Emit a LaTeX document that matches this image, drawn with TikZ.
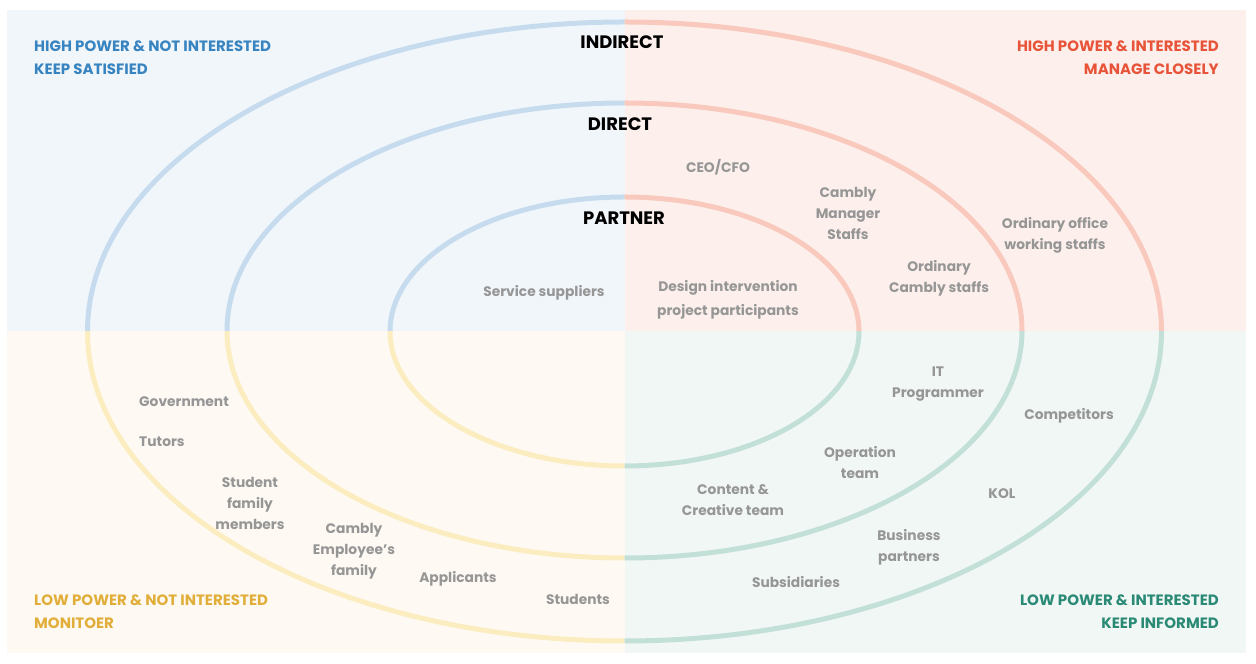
\documentclass[tikz,border=0pt]{standalone}
\usepackage{fontspec}
\setmainfont{Poppins}
\definecolor{bgTL}{HTML}{F1F6FB}
\definecolor{bgTR}{HTML}{FDF0EC}
\definecolor{bgBL}{HTML}{FEFAF3}
\definecolor{bgBR}{HTML}{F1F7F5}
\definecolor{lnTL}{HTML}{C6DCEE}
\definecolor{lnTR}{HTML}{F8C9BC}
\definecolor{lnBL}{HTML}{FCEDC0}
\definecolor{lnBR}{HTML}{C3E0D8}
\definecolor{txTL}{HTML}{3784C0}
\definecolor{txTR}{HTML}{E8543A}
\definecolor{txBL}{HTML}{E1AE3A}
\definecolor{txBR}{HTML}{2B8A76}
\definecolor{grayt}{HTML}{969696}
\begin{document}
\begin{tikzpicture}[x=1pt,y=1pt,
  item/.style={font=\fontsize{13.8}{21}\selectfont\bfseries, text=grayt, align=center, inner sep=0pt},
  ring/.style={font=\fontsize{18}{20}\selectfont\bfseries, text=black, inner sep=0pt},
  corner/.style={font=\fontsize{15}{23}\selectfont\bfseries, inner sep=0pt},
  orbit/.style={line width=5pt}]
\useasboundingbox (0,0) rectangle (1256,664);
\fill[white] (0,0) rectangle (1256,664);
% quadrants
\fill[bgTL] (7,654) rectangle (625,332.5);
\fill[bgTR] (625,654) rectangle (1246,332.5);
\fill[bgBL] (7,332.5) rectangle (625,11);
\fill[bgBR] (625,332.5) rectangle (1246,11);
% ellipses per quadrant
\foreach \cl/\xa/\ya/\xb/\yb in {lnTL/0/332.5/624.5/664, lnTR/624.5/332.5/1256/664, lnBL/0/0/624.5/332.5, lnBR/624.5/0/1256/332.5}{
  \begin{scope}
    \clip (\xa,\ya) rectangle (\xb,\yb);
    \draw[orbit, \cl] (624.5,332.5) ellipse [x radius=537, y radius=309.5];
    \draw[orbit, \cl] (624.5,333.5) ellipse [x radius=397.5, y radius=227.5];
    \draw[orbit, \cl] (624.5,332.5) ellipse [x radius=234.5, y radius=134.5];
  \end{scope}
}
% ring titles
\node[ring] (indirect) at (622,622) {INDIRECT};
\node[ring] (direct) at (620,540) {DIRECT};
\node[ring] (partner) at (624,446) {PARTNER};
% corner labels
\node[corner, text=txTL, anchor=north west, align=left] (tl) at (34,623) {HIGH POWER \& NOT INTERESTED\\KEEP SATISFIED};
\node[corner, text=txTR, anchor=north east, align=right] (tr) at (1219,623) {HIGH POWER \& INTERESTED\\MANAGE CLOSELY};
\node[corner, text=txBL, anchor=north west, align=left] (bl) at (34,69) {LOW POWER \& NOT INTERESTED\\MONITOER};
\node[corner, text=txBR, anchor=north east, align=right] (br) at (1219,69) {LOW POWER \& INTERESTED\\KEEP INFORMED};
% items
\begin{scope}[yshift=-1.5pt]
\node[item] (ceo) at (718,498) {CEO/CFO};
\node[item] (mgr) at (848,452) {Cambly\\Manager\\Staffs};
\node[item] (office) at (1055,430.5) {Ordinary office\\working staffs};
\node[item] (ordinary) at (939,387.5) {Ordinary\\Cambly staffs};
\node[item] (service) at (544,373) {Service suppliers};
\node[item, font=\fontsize{13.8}{24}\selectfont\bfseries] (design) at (728,366) {Design intervention\\project participants};
\node[item] (it) at (938,281.5) {IT\\Programmer};
\node[item] (comp) at (1069,250) {Competitors};
\node[item] (op) at (860,202.5) {Operation\\team};
\node[item] (content) at (733,165.5) {Content \&\\Creative team};
\node[item] (kol) at (1002,172) {KOL};
\node[item] (biz) at (909,118.5) {Business\\partners};
\node[item] (subs) at (796,83) {Subsidiaries};
\node[item, anchor=west] (gov) at (139,264) {Government};
\node[item, anchor=west] (tutors) at (139,224) {Tutors};
\node[item] (sfm) at (250,162) {Student\\family\\members};
\node[item] (emp) at (354,114) {Cambly\\Employee’s\\family};
\node[item] (app) at (458,87) {Applicants};
\node[item] (stu) at (578,66) {Students};
\end{scope}
\end{tikzpicture}
\end{document}
